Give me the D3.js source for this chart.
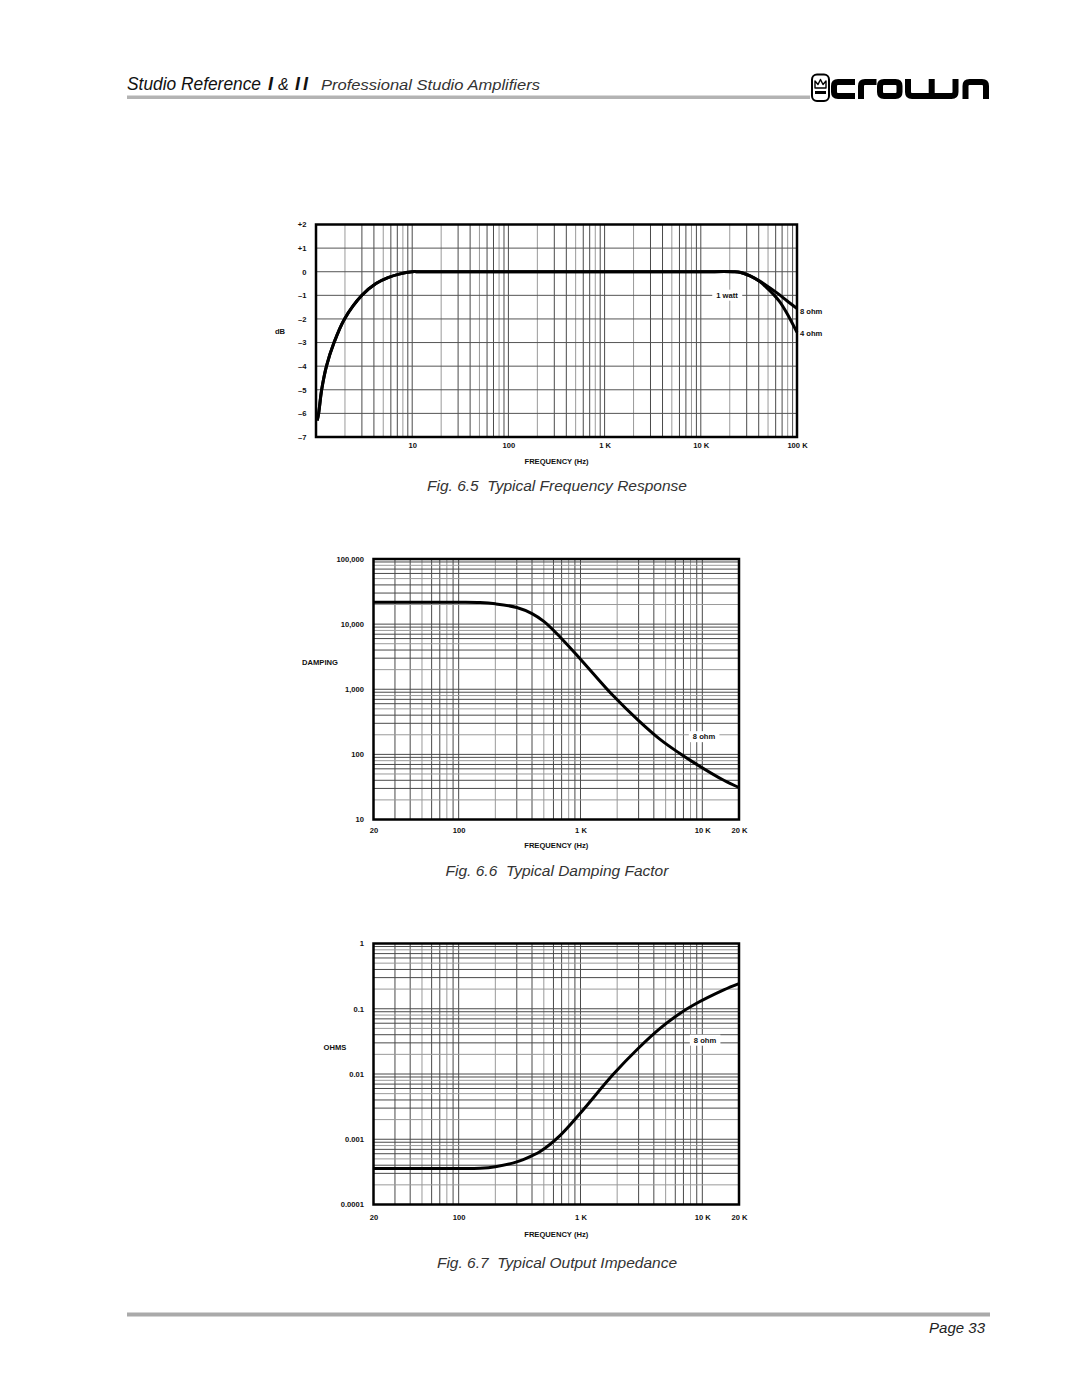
<!DOCTYPE html>
<html>
<head>
<meta charset="utf-8">
<script src="https://cdn.jsdelivr.net/npm/d3@7"></script>
<style>
  html, body { margin: 0; padding: 0; background: #fff; }
  svg { display: block; }
  text { font-family: "Liberation Sans", Arial, sans-serif; }
</style>
</head>
<body>
<script>
// ---------------- DATA ----------------
// Fig 6.5 Typical Frequency Response (1 watt)
const frFreq = [1.03, 1.065, 1.145, 1.285, 1.54, 1.98, 3.0, 4.2, 5.6, 7.3, 10, 12, 100, 1000, 10000, 21600, 26000, 32500, 41000, 48000, 57000, 66000, 78000, 100000];
const frDb8ohm = [-6.3, -6.0, -5.0, -4.0, -3.0, -2.0, -1.0, -0.5, -0.25, -0.1, 0, 0, 0, 0, 0, 0, -0.03, -0.18, -0.40, -0.58, -0.79, -0.98, -1.22, -1.56];
const frDb4ohm = [-6.3, -6.0, -5.0, -4.0, -3.0, -2.0, -1.0, -0.5, -0.25, -0.1, 0, 0, 0, 0, 0, 0, -0.03, -0.18, -0.42, -0.66, -0.96, -1.27, -1.74, -2.57];
const frXTicks = [10, 100, 1000, 10000, 100000];
const frXLabels = ["10", "100", "1 K", "10 K", "100 K"];
const frYTicks = [2, 1, 0, -1, -2, -3, -4, -5, -6, -7];
const frYLabels = ["+2", "+1", "0", "\u20131", "\u20132", "\u20133", "\u20134", "\u20135", "\u20136", "\u20137"];

// Fig 6.6 Typical Damping Factor (8 ohm)
const dfFreq = [20, 100, 150, 200, 300, 400, 500, 682, 1000, 1850, 3000, 4500, 6500, 8400, 15000, 20000];
const dfValue = [21600, 21600, 21400, 20500, 18000, 14500, 11000, 6300, 2900, 800, 330, 170, 104, 76, 40, 31];
const dfYTicks = [10, 100, 1000, 10000, 100000];
const dfYLabels = ["10", "100", "1,000", "10,000", "100,000"];

// Fig 6.7 Typical Output Impedance (8 ohm)
const ozFreq = [20, 100, 150, 200, 300, 400, 467, 682, 1000, 1850, 3000, 4500, 6500, 8400, 15000, 20000];
const ozValue = [0.000356, 0.000356, 0.00036, 0.00038, 0.00045, 0.00056, 0.00065, 0.00115, 0.00253, 0.0098, 0.025, 0.050, 0.084, 0.113, 0.194, 0.242];
const ozYTicks = [0.0001, 0.001, 0.01, 0.1, 1];
const ozYLabels = ["0.0001", "0.001", "0.01", "0.1", "1"];

const audioXTicks = [20, 100, 1000, 10000, 20000];
const audioXLabels = ["20", "100", "1 K", "10 K", "20 K"];

// ---------------- DRAW ----------------
const W = 1080, H = 1397;
const svg = d3.select("body").append("svg").attr("width", W).attr("height", H);
svg.append("rect").attr("width", W).attr("height", H).attr("fill", "#fff");

// header
svg.append("rect").attr("x", 127).attr("y", 95.5).attr("width", 683).attr("height", 3.5).attr("fill", "#b3b3b3");
svg.append("text").attr("x", 127).attr("y", 90).attr("font-size", 18.5).attr("font-style", "italic")
  .attr("fill", "#111").attr("textLength", 134).attr("lengthAdjust", "spacingAndGlyphs").text("Studio Reference");
svg.append("text").attr("x", 268).attr("y", 90).attr("font-size", 18).attr("font-style", "italic").attr("font-weight", "bold").attr("fill", "#111").text("I");
svg.append("text").attr("x", 278).attr("y", 90).attr("font-size", 16).attr("font-style", "italic").attr("fill", "#111").text("&");
svg.append("text").attr("x", 295).attr("y", 90).attr("font-size", 18).attr("font-style", "italic").attr("font-weight", "bold").attr("fill", "#111")
  .attr("letter-spacing", 3).text("II");
svg.append("text").attr("x", 321).attr("y", 90).attr("font-size", 15.5).attr("font-style", "italic")
  .attr("fill", "#333").attr("textLength", 219).attr("lengthAdjust", "spacingAndGlyphs").text("Professional Studio Amplifiers");

// logo
const logo = svg.append("g");
logo.append("rect").attr("x", 812).attr("y", 74.5).attr("width", 17).attr("height", 26.5).attr("rx", 5)
  .attr("fill", "none").attr("stroke", "#000").attr("stroke-width", 2);
logo.append("path").attr("d", "M815,88 L815,81 L818,84.5 L820.5,79.5 L823,84.5 L826,81 L826,88 Z")
  .attr("fill", "none").attr("stroke", "#000").attr("stroke-width", 1.4).attr("stroke-linejoin", "round");
logo.append("rect").attr("x", 815).attr("y", 91).attr("width", 11).attr("height", 3).attr("fill", "#000");
const ls = 6;
const logoPaths = [
  "M855,82 H838 Q834,82 834,86 V92 Q834,96 838,96 H855",
  "M861,99 V86 Q861,82 865,82 H876.5",
  "M884,82 H895.5 Q899.5,82 899.5,86 V92 Q899.5,96 895.5,96 H884 Q880,96 880,92 V86 Q880,82 884,82 Z",
  "M908,79 V92 Q908,96 912,96 H951.5 Q955.5,96 955.5,92 V79 M931.7,79 V96",
  "M965.5,99 V86 Q965.5,82 969.5,82 H982 Q986,82 986,86 V99"
];
logoPaths.forEach(d => logo.append("path").attr("d", d).attr("fill", "none").attr("stroke", "#000").attr("stroke-width", ls));

// footer
svg.append("rect").attr("x", 127).attr("y", 1312.5).attr("width", 863).attr("height", 4).attr("fill", "#aaaaaa");
svg.append("text").attr("x", 985).attr("y", 1333).attr("text-anchor", "end").attr("font-size", 15).attr("font-style", "italic")
  .attr("fill", "#222").text("Page 33");

function gridColor(k) { return (k === 2 || k === 5 || k === 8) ? "#9a9a9a" : "#4a4a4a"; }

function logGridValues(lo, hi) {
  const out = [];
  let d = Math.pow(10, Math.floor(Math.log10(lo) + 1e-9));
  for (; d < hi * 1.0001; d *= 10) {
    for (let k = 1; k <= 9; k++) {
      const v = +(k * d).toPrecision(6);
      if (v > lo * 1.0001 && v < hi * 0.9999) out.push({ v, k });
    }
  }
  return out;
}

function drawChart(cfg) {
  const g = svg.append("g");
  const x = d3.scaleLog().domain(cfg.xDomain).range([cfg.left, cfg.right]);
  const y = (cfg.yLog ? d3.scaleLog() : d3.scaleLinear()).domain(cfg.yDomain).range([cfg.bottom, cfg.top]);

  // vertical grid
  logGridValues(cfg.xDomain[0], cfg.xDomain[1]).forEach(({ v, k }) => {
    g.append("line").attr("x1", x(v)).attr("x2", x(v)).attr("y1", cfg.top).attr("y2", cfg.bottom)
      .attr("stroke", gridColor(k)).attr("stroke-width", 1);
  });
  // horizontal grid
  if (cfg.yLog) {
    logGridValues(cfg.yDomain[0], cfg.yDomain[1]).forEach(({ v, k }) => {
      g.append("line").attr("x1", cfg.left).attr("x2", cfg.right).attr("y1", y(v)).attr("y2", y(v))
        .attr("stroke", gridColor(k)).attr("stroke-width", 1);
    });
  } else {
    d3.range(cfg.yDomain[0] + 1, cfg.yDomain[1]).forEach(v => {
      g.append("line").attr("x1", cfg.left).attr("x2", cfg.right).attr("y1", y(v)).attr("y2", y(v))
        .attr("stroke", "#555").attr("stroke-width", 1);
    });
  }

  // series
  const line = d3.line().x(d => x(d[0])).y(d => y(d[1])).curve(d3.curveCatmullRom.alpha(0.5));
  cfg.series.forEach(s => {
    g.append("path").datum(s.freq.map((f, i) => [f, s.values[i]])).attr("d", line)
      .attr("fill", "none").attr("stroke", "#000").attr("stroke-width", 3).attr("stroke-linejoin", "round");
  });

  // frame
  g.append("rect").attr("x", cfg.left).attr("y", cfg.top).attr("width", cfg.right - cfg.left).attr("height", cfg.bottom - cfg.top)
    .attr("fill", "none").attr("stroke", "#000").attr("stroke-width", 2.5);

  // axes
  const xa = g.append("g").attr("transform", `translate(0,${cfg.bottom})`)
    .call(d3.axisBottom(x).tickValues(cfg.xTicks).tickFormat((d, i) => cfg.xLabels[i]).tickSize(0).tickPadding(cfg.xPad));
  xa.select(".domain").remove();
  xa.selectAll("text").attr("font-size", 7.6).attr("font-weight", "bold").attr("fill", "#111")
    .attr("font-family", "Liberation Sans, Arial, sans-serif");
  const ya = g.append("g").attr("transform", `translate(${cfg.left},0)`)
    .call(d3.axisLeft(y).tickValues(cfg.yTicks).tickFormat((d, i) => cfg.yLabels[i]).tickSize(0).tickPadding(9.5));
  ya.select(".domain").remove();
  ya.selectAll("text").attr("font-size", 7.6).attr("font-weight", "bold").attr("fill", "#111")
    .attr("font-family", "Liberation Sans, Arial, sans-serif");

  g.append("text").attr("x", (cfg.left + cfg.right) / 2).attr("y", cfg.bottom + cfg.xTitleDy).attr("text-anchor", "middle")
    .attr("font-size", 7.6).attr("font-weight", "bold").attr("fill", "#111").text("FREQUENCY (Hz)");
  g.append("text").attr("x", cfg.yTitleX).attr("y", cfg.yTitleY).attr("text-anchor", "middle").attr("dy", "0.35em")
    .attr("font-size", 7.6).attr("font-weight", "bold").attr("fill", "#111").text(cfg.yTitle);

  // inside labels with white background
  cfg.inLabels.forEach(l => {
    const t = g.append("text").attr("x", l.x).attr("y", l.y).attr("dy", "0.35em").attr("text-anchor", "middle")
      .attr("font-size", 7.6).attr("font-weight", "bold").attr("fill", "#111").text(l.text);
    const bb = t.node().getBBox();
    g.insert("rect", () => t.node()).attr("x", bb.x - 4).attr("y", bb.y - 1).attr("width", bb.width + 8).attr("height", bb.height + 2).attr("fill", "#fff");
  });
  cfg.outLabels.forEach(l => {
    g.append("text").attr("x", l.x).attr("y", l.y).attr("dy", "0.35em")
      .attr("font-size", 7.6).attr("font-weight", "bold").attr("fill", "#111").text(l.text);
  });

  g.append("text").attr("x", 557).attr("y", cfg.captionY).attr("text-anchor", "middle").attr("font-size", 15.5)
    .attr("font-style", "italic").attr("fill", "#333").style("white-space", "pre").text(cfg.caption);
}

drawChart({
  left: 316, right: 797, top: 224.5, bottom: 437,
  xDomain: [1, 100000], yDomain: [-7, 2], yLog: false,
  xTicks: frXTicks, xLabels: frXLabels, yTicks: frYTicks, yLabels: frYLabels, xPad: 6,
  series: [{ freq: frFreq, values: frDb8ohm }, { freq: frFreq, values: frDb4ohm }],
  xTitleDy: 27, yTitle: "dB", yTitleX: 280, yTitleY: 331,
  inLabels: [{ x: 727, y: 295, text: "1 watt" }],
  outLabels: [{ x: 800, y: 311.5, text: "8 ohm" }, { x: 800, y: 333, text: "4 ohm" }],
  caption: "Fig. 6.5  Typical Frequency Response", captionY: 491
});

drawChart({
  left: 373.5, right: 739, top: 559, bottom: 819.5,
  xDomain: [20, 20000], yDomain: [10, 100000], yLog: true,
  xTicks: audioXTicks, xLabels: audioXLabels, yTicks: dfYTicks, yLabels: dfYLabels, xPad: 8,
  series: [{ freq: dfFreq, values: dfValue }],
  xTitleDy: 28, yTitle: "DAMPING", yTitleX: 320, yTitleY: 662,
  inLabels: [{ x: 704, y: 736.5, text: "8 ohm" }],
  outLabels: [],
  caption: "Fig. 6.6  Typical Damping Factor", captionY: 876
});

drawChart({
  left: 373.5, right: 739, top: 943.5, bottom: 1204.5,
  xDomain: [20, 20000], yDomain: [0.0001, 1], yLog: true,
  xTicks: audioXTicks, xLabels: audioXLabels, yTicks: ozYTicks, yLabels: ozYLabels, xPad: 10,
  series: [{ freq: ozFreq, values: ozValue }],
  xTitleDy: 32, yTitle: "OHMS", yTitleX: 335, yTitleY: 1047,
  inLabels: [{ x: 705, y: 1040, text: "8 ohm" }],
  outLabels: [],
  caption: "Fig. 6.7  Typical Output Impedance", captionY: 1268
});
</script>
</body>
</html>
